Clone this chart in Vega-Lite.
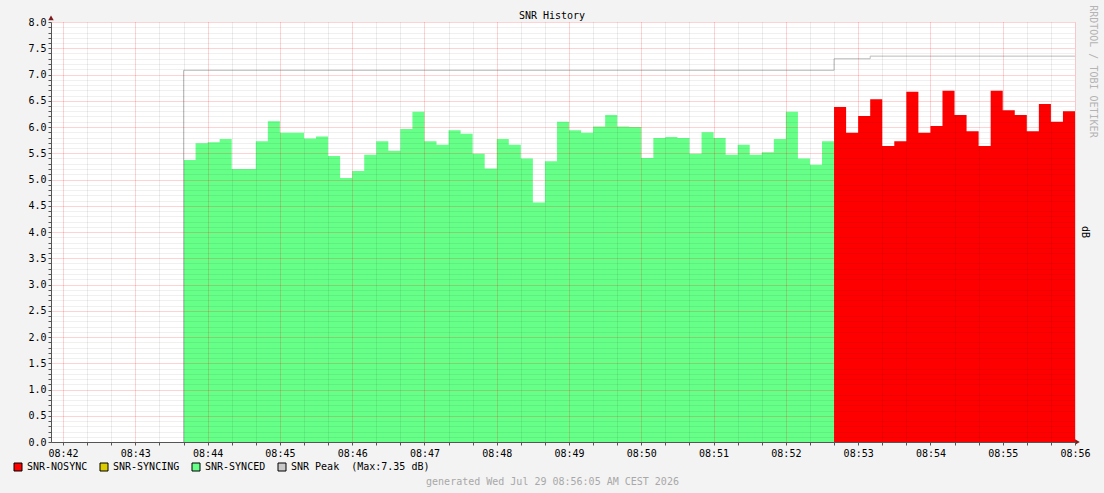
{
  "$schema": "https://vega.github.io/schema/vega-lite/v6.json",
  "width": 1024,
  "height": 420,
  "autosize": {"type": "none"},
  "padding": {"left": 51, "top": 22, "right": 29, "bottom": 51},
  "background": "#F3F3F3",
  "config": {"view": {"fill": "#FFFFFF", "stroke": null}},
  "title": {"text": "SNR History", "font": "DejaVu Sans Mono", "fontSize": 10, "fontWeight": "normal", "color": "#000000", "anchor": "middle", "dx": -11, "offset": -5, "dy": 11},
  "datasets": {
    "snr": [
      {"t": "2026-07-29T08:43:40", "v": 5.37, "s": "SNR-SYNCED"},
      {"t": "2026-07-29T08:43:50", "v": 5.69, "s": "SNR-SYNCED"},
      {"t": "2026-07-29T08:44:00", "v": 5.71, "s": "SNR-SYNCED"},
      {"t": "2026-07-29T08:44:10", "v": 5.77, "s": "SNR-SYNCED"},
      {"t": "2026-07-29T08:44:20", "v": 5.2, "s": "SNR-SYNCED"},
      {"t": "2026-07-29T08:44:30", "v": 5.2, "s": "SNR-SYNCED"},
      {"t": "2026-07-29T08:44:40", "v": 5.73, "s": "SNR-SYNCED"},
      {"t": "2026-07-29T08:44:50", "v": 6.11, "s": "SNR-SYNCED"},
      {"t": "2026-07-29T08:45:00", "v": 5.89, "s": "SNR-SYNCED"},
      {"t": "2026-07-29T08:45:10", "v": 5.89, "s": "SNR-SYNCED"},
      {"t": "2026-07-29T08:45:20", "v": 5.78, "s": "SNR-SYNCED"},
      {"t": "2026-07-29T08:45:30", "v": 5.82, "s": "SNR-SYNCED"},
      {"t": "2026-07-29T08:45:40", "v": 5.45, "s": "SNR-SYNCED"},
      {"t": "2026-07-29T08:45:50", "v": 5.03, "s": "SNR-SYNCED"},
      {"t": "2026-07-29T08:46:00", "v": 5.16, "s": "SNR-SYNCED"},
      {"t": "2026-07-29T08:46:10", "v": 5.47, "s": "SNR-SYNCED"},
      {"t": "2026-07-29T08:46:20", "v": 5.73, "s": "SNR-SYNCED"},
      {"t": "2026-07-29T08:46:30", "v": 5.55, "s": "SNR-SYNCED"},
      {"t": "2026-07-29T08:46:40", "v": 5.96, "s": "SNR-SYNCED"},
      {"t": "2026-07-29T08:46:50", "v": 6.29, "s": "SNR-SYNCED"},
      {"t": "2026-07-29T08:47:00", "v": 5.73, "s": "SNR-SYNCED"},
      {"t": "2026-07-29T08:47:10", "v": 5.66, "s": "SNR-SYNCED"},
      {"t": "2026-07-29T08:47:20", "v": 5.94, "s": "SNR-SYNCED"},
      {"t": "2026-07-29T08:47:30", "v": 5.87, "s": "SNR-SYNCED"},
      {"t": "2026-07-29T08:47:40", "v": 5.49, "s": "SNR-SYNCED"},
      {"t": "2026-07-29T08:47:50", "v": 5.21, "s": "SNR-SYNCED"},
      {"t": "2026-07-29T08:48:00", "v": 5.77, "s": "SNR-SYNCED"},
      {"t": "2026-07-29T08:48:10", "v": 5.66, "s": "SNR-SYNCED"},
      {"t": "2026-07-29T08:48:20", "v": 5.4, "s": "SNR-SYNCED"},
      {"t": "2026-07-29T08:48:30", "v": 4.56, "s": "SNR-SYNCED"},
      {"t": "2026-07-29T08:48:40", "v": 5.35, "s": "SNR-SYNCED"},
      {"t": "2026-07-29T08:48:50", "v": 6.1, "s": "SNR-SYNCED"},
      {"t": "2026-07-29T08:49:00", "v": 5.94, "s": "SNR-SYNCED"},
      {"t": "2026-07-29T08:49:10", "v": 5.89, "s": "SNR-SYNCED"},
      {"t": "2026-07-29T08:49:20", "v": 6.01, "s": "SNR-SYNCED"},
      {"t": "2026-07-29T08:49:30", "v": 6.23, "s": "SNR-SYNCED"},
      {"t": "2026-07-29T08:49:40", "v": 6.01, "s": "SNR-SYNCED"},
      {"t": "2026-07-29T08:49:50", "v": 6.0, "s": "SNR-SYNCED"},
      {"t": "2026-07-29T08:50:00", "v": 5.41, "s": "SNR-SYNCED"},
      {"t": "2026-07-29T08:50:10", "v": 5.79, "s": "SNR-SYNCED"},
      {"t": "2026-07-29T08:50:20", "v": 5.81, "s": "SNR-SYNCED"},
      {"t": "2026-07-29T08:50:30", "v": 5.79, "s": "SNR-SYNCED"},
      {"t": "2026-07-29T08:50:40", "v": 5.49, "s": "SNR-SYNCED"},
      {"t": "2026-07-29T08:50:50", "v": 5.9, "s": "SNR-SYNCED"},
      {"t": "2026-07-29T08:51:00", "v": 5.79, "s": "SNR-SYNCED"},
      {"t": "2026-07-29T08:51:10", "v": 5.47, "s": "SNR-SYNCED"},
      {"t": "2026-07-29T08:51:20", "v": 5.66, "s": "SNR-SYNCED"},
      {"t": "2026-07-29T08:51:30", "v": 5.47, "s": "SNR-SYNCED"},
      {"t": "2026-07-29T08:51:40", "v": 5.52, "s": "SNR-SYNCED"},
      {"t": "2026-07-29T08:51:50", "v": 5.77, "s": "SNR-SYNCED"},
      {"t": "2026-07-29T08:52:00", "v": 6.29, "s": "SNR-SYNCED"},
      {"t": "2026-07-29T08:52:10", "v": 5.4, "s": "SNR-SYNCED"},
      {"t": "2026-07-29T08:52:20", "v": 5.28, "s": "SNR-SYNCED"},
      {"t": "2026-07-29T08:52:30", "v": 5.73, "s": "SNR-SYNCED"},
      {"t": "2026-07-29T08:52:40", "v": 5.73, "s": "SNR-SYNCED"},
      {"t": "2026-07-29T08:52:40", "v": 6.38, "s": "SNR-NOSYNC"},
      {"t": "2026-07-29T08:52:50", "v": 5.89, "s": "SNR-NOSYNC"},
      {"t": "2026-07-29T08:53:00", "v": 6.21, "s": "SNR-NOSYNC"},
      {"t": "2026-07-29T08:53:10", "v": 6.53, "s": "SNR-NOSYNC"},
      {"t": "2026-07-29T08:53:20", "v": 5.64, "s": "SNR-NOSYNC"},
      {"t": "2026-07-29T08:53:30", "v": 5.73, "s": "SNR-NOSYNC"},
      {"t": "2026-07-29T08:53:40", "v": 6.67, "s": "SNR-NOSYNC"},
      {"t": "2026-07-29T08:53:50", "v": 5.89, "s": "SNR-NOSYNC"},
      {"t": "2026-07-29T08:54:00", "v": 6.02, "s": "SNR-NOSYNC"},
      {"t": "2026-07-29T08:54:10", "v": 6.69, "s": "SNR-NOSYNC"},
      {"t": "2026-07-29T08:54:20", "v": 6.23, "s": "SNR-NOSYNC"},
      {"t": "2026-07-29T08:54:30", "v": 5.92, "s": "SNR-NOSYNC"},
      {"t": "2026-07-29T08:54:40", "v": 5.64, "s": "SNR-NOSYNC"},
      {"t": "2026-07-29T08:54:50", "v": 6.69, "s": "SNR-NOSYNC"},
      {"t": "2026-07-29T08:55:00", "v": 6.32, "s": "SNR-NOSYNC"},
      {"t": "2026-07-29T08:55:10", "v": 6.23, "s": "SNR-NOSYNC"},
      {"t": "2026-07-29T08:55:20", "v": 5.92, "s": "SNR-NOSYNC"},
      {"t": "2026-07-29T08:55:30", "v": 6.44, "s": "SNR-NOSYNC"},
      {"t": "2026-07-29T08:55:40", "v": 6.1, "s": "SNR-NOSYNC"},
      {"t": "2026-07-29T08:55:50", "v": 6.3, "s": "SNR-NOSYNC"},
      {"t": "2026-07-29T08:56:00", "v": 6.3, "s": "SNR-NOSYNC"}
    ],
    "peak": [
      {"i": 0, "t": "2026-07-29T08:43:40", "v": 0},
      {"i": 1, "t": "2026-07-29T08:43:40", "v": 7.08},
      {"i": 2, "t": "2026-07-29T08:52:40", "v": 7.08},
      {"i": 3, "t": "2026-07-29T08:52:40", "v": 7.3},
      {"i": 4, "t": "2026-07-29T08:53:10", "v": 7.3},
      {"i": 5, "t": "2026-07-29T08:53:10", "v": 7.35},
      {"i": 6, "t": "2026-07-29T08:56:00", "v": 7.35}
    ]
  },
  "layer": [
    {
      "data": {"name": "snr"},
      "mark": {"type": "area", "interpolate": "step-after", "opacity": 1},
      "encoding": {
        "x": {
          "field": "t",
          "type": "temporal",
          "scale": {
            "domain": [
              {"year": 2026, "month": 7, "date": 29, "hours": 8, "minutes": 41, "seconds": 50},
              {"year": 2026, "month": 7, "date": 29, "hours": 8, "minutes": 56, "seconds": 0}
            ]
          },
          "axis": {
            "values": [
              {"year": 2026, "month": 7, "date": 29, "hours": 8, "minutes": 42, "seconds": 0},
              {"year": 2026, "month": 7, "date": 29, "hours": 8, "minutes": 42, "seconds": 20},
              {"year": 2026, "month": 7, "date": 29, "hours": 8, "minutes": 42, "seconds": 40},
              {"year": 2026, "month": 7, "date": 29, "hours": 8, "minutes": 43, "seconds": 0},
              {"year": 2026, "month": 7, "date": 29, "hours": 8, "minutes": 43, "seconds": 20},
              {"year": 2026, "month": 7, "date": 29, "hours": 8, "minutes": 43, "seconds": 40},
              {"year": 2026, "month": 7, "date": 29, "hours": 8, "minutes": 44, "seconds": 0},
              {"year": 2026, "month": 7, "date": 29, "hours": 8, "minutes": 44, "seconds": 20},
              {"year": 2026, "month": 7, "date": 29, "hours": 8, "minutes": 44, "seconds": 40},
              {"year": 2026, "month": 7, "date": 29, "hours": 8, "minutes": 45, "seconds": 0},
              {"year": 2026, "month": 7, "date": 29, "hours": 8, "minutes": 45, "seconds": 20},
              {"year": 2026, "month": 7, "date": 29, "hours": 8, "minutes": 45, "seconds": 40},
              {"year": 2026, "month": 7, "date": 29, "hours": 8, "minutes": 46, "seconds": 0},
              {"year": 2026, "month": 7, "date": 29, "hours": 8, "minutes": 46, "seconds": 20},
              {"year": 2026, "month": 7, "date": 29, "hours": 8, "minutes": 46, "seconds": 40},
              {"year": 2026, "month": 7, "date": 29, "hours": 8, "minutes": 47, "seconds": 0},
              {"year": 2026, "month": 7, "date": 29, "hours": 8, "minutes": 47, "seconds": 20},
              {"year": 2026, "month": 7, "date": 29, "hours": 8, "minutes": 47, "seconds": 40},
              {"year": 2026, "month": 7, "date": 29, "hours": 8, "minutes": 48, "seconds": 0},
              {"year": 2026, "month": 7, "date": 29, "hours": 8, "minutes": 48, "seconds": 20},
              {"year": 2026, "month": 7, "date": 29, "hours": 8, "minutes": 48, "seconds": 40},
              {"year": 2026, "month": 7, "date": 29, "hours": 8, "minutes": 49, "seconds": 0},
              {"year": 2026, "month": 7, "date": 29, "hours": 8, "minutes": 49, "seconds": 20},
              {"year": 2026, "month": 7, "date": 29, "hours": 8, "minutes": 49, "seconds": 40},
              {"year": 2026, "month": 7, "date": 29, "hours": 8, "minutes": 50, "seconds": 0},
              {"year": 2026, "month": 7, "date": 29, "hours": 8, "minutes": 50, "seconds": 20},
              {"year": 2026, "month": 7, "date": 29, "hours": 8, "minutes": 50, "seconds": 40},
              {"year": 2026, "month": 7, "date": 29, "hours": 8, "minutes": 51, "seconds": 0},
              {"year": 2026, "month": 7, "date": 29, "hours": 8, "minutes": 51, "seconds": 20},
              {"year": 2026, "month": 7, "date": 29, "hours": 8, "minutes": 51, "seconds": 40},
              {"year": 2026, "month": 7, "date": 29, "hours": 8, "minutes": 52, "seconds": 0},
              {"year": 2026, "month": 7, "date": 29, "hours": 8, "minutes": 52, "seconds": 20},
              {"year": 2026, "month": 7, "date": 29, "hours": 8, "minutes": 52, "seconds": 40},
              {"year": 2026, "month": 7, "date": 29, "hours": 8, "minutes": 53, "seconds": 0},
              {"year": 2026, "month": 7, "date": 29, "hours": 8, "minutes": 53, "seconds": 20},
              {"year": 2026, "month": 7, "date": 29, "hours": 8, "minutes": 53, "seconds": 40},
              {"year": 2026, "month": 7, "date": 29, "hours": 8, "minutes": 54, "seconds": 0},
              {"year": 2026, "month": 7, "date": 29, "hours": 8, "minutes": 54, "seconds": 20},
              {"year": 2026, "month": 7, "date": 29, "hours": 8, "minutes": 54, "seconds": 40},
              {"year": 2026, "month": 7, "date": 29, "hours": 8, "minutes": 55, "seconds": 0},
              {"year": 2026, "month": 7, "date": 29, "hours": 8, "minutes": 55, "seconds": 20},
              {"year": 2026, "month": 7, "date": 29, "hours": 8, "minutes": 55, "seconds": 40},
              {"year": 2026, "month": 7, "date": 29, "hours": 8, "minutes": 56, "seconds": 0}
            ],
            "tickCount": 100,
            "grid": true,
            "gridDash": [1, 1],
            "gridColor": {"condition": {"test": "seconds(datum.value) == 0", "value": "rgba(255,0,0,0.35)"}, "value": "rgba(0,0,0,0.14)"},
            "labelExpr": "seconds(datum.value) == 0 ? timeFormat(datum.value, '%H:%M') : ''",
            "labelOverlap": false,
            "labelFlush": false,
            "labelFont": "DejaVu Sans Mono",
            "labelFontSize": 10,
            "labelColor": "#000000",
            "labelPadding": 3,
            "tickSize": 3,
            "tickColor": "#555555",
            "domainColor": "#555555",
            "title": "generated Wed Jul 29 08:56:05 AM CEST 2026",
            "titleFont": "DejaVu Sans Mono",
            "titleFontSize": 10,
            "titleFontWeight": "normal",
            "titleColor": "#A8A8A8",
            "titleX": 501,
            "titleY": 39,
            "titleBaseline": "middle",
            "zindex": 1
          }
        },
        "y": {
          "field": "v",
          "type": "quantitative",
          "stack": null,
          "scale": {"domain": [0, 8], "nice": false},
          "axis": {
            "tickCount": 80,
            "grid": true,
            "gridDash": [1, 1],
            "gridColor": {"condition": {"test": "abs(datum.value * 2 - round(datum.value * 2)) < 0.001", "value": "rgba(255,0,0,0.35)"}, "value": "rgba(0,0,0,0.12)"},
            "labelExpr": "abs(datum.value * 2 - round(datum.value * 2)) < 0.001 ? format(datum.value, '.1f') : ''",
            "labelOverlap": false,
            "labelFlush": false,
            "labelFont": "DejaVu Sans Mono",
            "labelFontSize": 10,
            "labelColor": "#000000",
            "labelPadding": 2,
            "tickSize": 3,
            "tickColor": "#555555",
            "domainColor": "#555555",
            "title": null,
            "zindex": 1
          }
        },
        "color": {
          "field": "s",
          "type": "nominal",
          "scale": {
            "domain": ["SNR-NOSYNC", "SNR-SYNCING", "SNR-SYNCED", "SNR Peak"],
            "range": ["#FF0000", "#DDCC00", "#66FF88", "#C8C8C8"]
          },
          "legend": {
            "orient": "none",
            "legendX": -38,
            "legendY": 440,
            "direction": "horizontal",
            "title": null,
            "padding": 0,
            "symbolType": "square",
            "symbolSize": 64,
            "symbolStrokeColor": "#000000",
            "symbolStrokeWidth": 1,
            "symbolOpacity": 1,
            "labelFont": "DejaVu Sans Mono",
            "labelFontSize": 10,
            "labelColor": "#000000",
            "labelOffset": 4,
            "columnPadding": 10,
            "labelExpr": "datum.label == 'SNR Peak' ? 'SNR Peak\u00a0\u00a0(Max:7.35 dB)' : datum.label"
          }
        }
      }
    },
    {
      "data": {"name": "peak"},
      "mark": {"type": "line", "color": "#BBBBBB", "strokeWidth": 1},
      "encoding": {
        "x": {"field": "t", "type": "temporal"},
        "y": {"field": "v", "type": "quantitative"},
        "order": {"field": "i", "type": "quantitative"}
      }
    },
    {
      "data": {"values": [{}]},
      "mark": {"type": "point", "shape": "triangle-up", "filled": true, "color": "#7F1A1A", "size": 30, "opacity": 1},
      "encoding": {
        "x": {"datum": {"year": 2026, "month": 7, "date": 29, "hours": 8, "minutes": 41, "seconds": 50}, "type": "temporal"},
        "y": {"datum": 8.08, "type": "quantitative"}
      }
    },
    {
      "data": {"values": [{}]},
      "mark": {"type": "point", "shape": "triangle-right", "filled": true, "color": "#7F1A1A", "size": 30, "opacity": 1},
      "encoding": {
        "x": {"datum": {"year": 2026, "month": 7, "date": 29, "hours": 8, "minutes": 56, "seconds": 2}, "type": "temporal"},
        "y": {"datum": 0, "type": "quantitative"}
      }
    },
    {
      "data": {"values": [{}]},
      "mark": {"type": "text", "text": "dB", "angle": 90, "align": "center", "baseline": "middle", "font": "DejaVu Sans Mono", "fontSize": 10, "color": "#000000"},
      "encoding": {
        "x": {"datum": {"year": 2026, "month": 7, "date": 29, "hours": 8, "minutes": 56, "seconds": 8}, "type": "temporal"},
        "y": {"datum": 4.0, "type": "quantitative"}
      }
    },
    {
      "data": {"values": [{}]},
      "mark": {"type": "text", "text": "RRDTOOL / TOBI OETIKER", "angle": 90, "align": "left", "baseline": "middle", "font": "DejaVu Sans Mono", "fontSize": 10, "color": "#B4B4B4"},
      "encoding": {
        "x": {"datum": {"year": 2026, "month": 7, "date": 29, "hours": 8, "minutes": 56, "seconds": 15}, "type": "temporal"},
        "y": {"datum": 8.32, "type": "quantitative"}
      }
    }
  ]
}
